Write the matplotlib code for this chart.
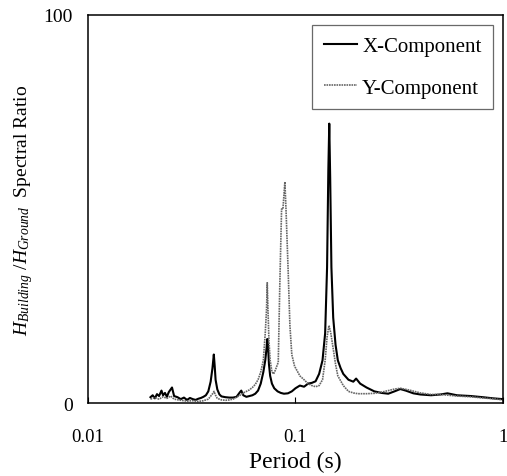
import matplotlib
matplotlib.use('Agg')
import matplotlib.pyplot as plt

# X-component spectral ratio (period in s, ratio)
periodo_x = [0.0200, 0.0205, 0.0210, 0.0215, 0.0220, 0.0226, 0.0230, 0.0235, 0.0240, 0.0245,
             0.0254, 0.0260, 0.0270, 0.0280, 0.0290, 0.0300, 0.0310, 0.0320, 0.0330, 0.0340,
             0.0350, 0.0360, 0.0370, 0.0380, 0.0390, 0.0398, 0.0404, 0.0408, 0.0412, 0.0420,
             0.0430, 0.0440, 0.0460, 0.0480, 0.0500, 0.0520, 0.0540, 0.0548, 0.0560, 0.0580,
             0.0600, 0.0620, 0.0640, 0.0660, 0.0680, 0.0700, 0.0715, 0.0725, 0.0731, 0.0737,
             0.0745, 0.0755, 0.0770, 0.0790, 0.0820, 0.0850, 0.0880, 0.0920, 0.0960, 0.1000,
             0.1050, 0.1100, 0.1150, 0.1200, 0.1250, 0.1300, 0.1350, 0.1390, 0.1420, 0.1440,
             0.1455, 0.1470, 0.1490, 0.1520, 0.1560, 0.1600, 0.1650, 0.1700, 0.1800, 0.1900,
             0.1960, 0.2050, 0.2200, 0.2400, 0.2600, 0.2800, 0.3000, 0.3200, 0.3400, 0.3700,
             0.4000, 0.4500, 0.5000, 0.5400, 0.6000, 0.7000, 0.8000, 0.9000, 1.0000]
razao_x = [1.5, 2.0, 1.2, 2.3, 1.8, 3.2, 2.0, 2.6, 1.6, 2.8,
           4.0, 1.8, 1.5, 1.0, 1.4, 0.8, 1.3, 1.0, 0.8, 1.1,
           1.3, 1.6, 2.0, 3.0, 5.5, 9.0, 12.5, 9.5, 6.0, 3.5,
           2.2, 1.7, 1.5, 1.4, 1.4, 1.6, 2.8, 3.2, 2.0, 1.6,
           1.8, 2.0, 2.4, 3.2, 5.0, 8.0, 11.0, 14.0, 16.5, 15.0,
           10.0, 7.0, 5.0, 3.8, 3.0, 2.6, 2.4, 2.5, 3.0, 3.8,
           4.5, 4.2, 5.0, 5.2, 5.6, 7.5, 11.0, 18.0, 35.0, 60.0,
           72.0, 58.0, 35.0, 22.0, 15.0, 11.0, 9.0, 7.5, 6.0, 5.5,
           6.3, 5.0, 4.0, 3.0, 2.6, 2.4, 3.0, 3.6, 3.2, 2.5,
           2.2, 2.0, 2.2, 2.5, 2.0, 1.8, 1.5, 1.2, 1.0]

# Y-component spectral ratio
periodo_y = [0.0200, 0.0210, 0.0220, 0.0230, 0.0240, 0.0250, 0.0260, 0.0280, 0.0300, 0.0320,
             0.0340, 0.0360, 0.0380, 0.0400, 0.0405, 0.0410, 0.0420, 0.0440, 0.0460, 0.0480,
             0.0500, 0.0520, 0.0540, 0.0560, 0.0580, 0.0600, 0.0620, 0.0640, 0.0660, 0.0680,
             0.0700, 0.0715, 0.0725, 0.0731, 0.0737, 0.0745, 0.0755, 0.0770, 0.0785, 0.0800,
             0.0826, 0.0840, 0.0857, 0.0870, 0.0889, 0.0900, 0.0922, 0.0940, 0.0960, 0.0990,
             0.1050, 0.1100, 0.1150, 0.1200, 0.1250, 0.1300, 0.1350, 0.1390, 0.1420, 0.1450,
             0.1480, 0.1520, 0.1560, 0.1600, 0.1700, 0.1800, 0.1900, 0.2000, 0.2200, 0.2400,
             0.2600, 0.2800, 0.3000, 0.3200, 0.3500, 0.4000, 0.4500, 0.5000, 0.6000, 0.7000,
             0.8000, 0.9000, 1.0000]
razao_y = [1.0, 1.4, 1.0, 1.6, 1.2, 1.8, 1.0, 0.7, 0.5, 0.6,
           0.4, 0.6, 1.0, 2.5, 3.0, 2.2, 1.2, 0.8, 0.7, 0.8,
           1.0, 1.5, 2.0, 2.6, 3.0, 3.4, 4.0, 4.8, 6.0, 8.0,
           11.0, 18.0, 24.0, 31.0, 24.0, 16.0, 11.0, 8.0, 7.5, 8.5,
           10.5, 30.0, 50.0, 50.0, 57.0, 50.0, 34.0, 20.0, 12.5, 9.5,
           7.0, 6.0, 5.0, 4.5, 4.2, 4.5, 6.0, 11.0, 17.0, 20.0,
           18.0, 14.0, 10.0, 7.0, 4.5, 3.0, 2.6, 2.4, 2.4, 2.5,
           2.8, 3.2, 3.6, 3.8, 3.4, 2.6, 2.2, 2.2, 1.8, 1.6,
           1.3, 1.1, 0.8]

plt.rcParams['font.family'] = 'Liberation Serif'
plt.rcParams['mathtext.fontset'] = 'custom'
plt.rcParams['mathtext.rm'] = 'Liberation Serif'
plt.rcParams['mathtext.it'] = 'Liberation Serif:italic'

fig = plt.figure(figsize=(5.07, 4.77), dpi=100)
ax = fig.add_axes([0.1736, 0.153, 0.8184, 0.8135])

ax.plot(periodo_x, razao_x, color='black', lw=1.5, label='X-Component')
ax.plot(periodo_y, razao_y, color='#666666', lw=1.2, ls=(0, (1, 0.5)), label='Y-Component')

ax.set_xscale('log')
ax.set_xlim(0.01, 1)
ax.set_ylim(0, 100)
ax.set_xticks([0.01, 0.1, 1])
ax.set_xticklabels(['0.01', '0.1', '1'])
ax.set_yticks([0, 100])
ax.minorticks_off()
ax.tick_params(axis='x', direction='in', length=4, pad=18, labelsize=13.5)
ax.tick_params(axis='y', direction='in', length=0, pad=11, labelsize=14)
for s in ax.spines.values():
    s.set_linewidth(1.1)

ax.set_xlabel('Period (s)', fontsize=17, labelpad=4)
ax.set_ylabel(r'$H_{Building}$ /$H_{Ground}$  Spectral Ratio', fontsize=14, labelpad=6)

leg = ax.legend(loc='upper right', bbox_to_anchor=(0.976, 0.974), borderaxespad=0,
                fancybox=False, edgecolor='#444444', fontsize=15, handlelength=1.6,
                labelspacing=1.05, borderpad=0.55, handletextpad=0.25)
leg.get_frame().set_linewidth(0.9)

fig.savefig('out.png', dpi=100)
